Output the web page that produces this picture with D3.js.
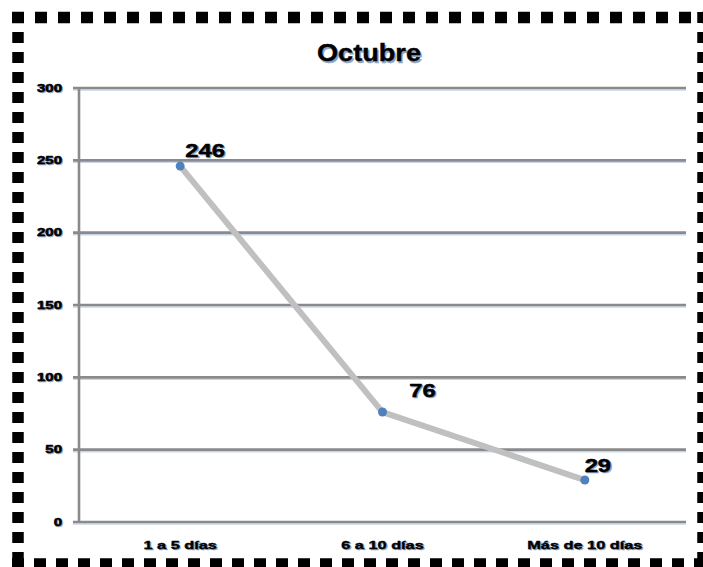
<!DOCTYPE html>
<html><head><meta charset="utf-8">
<script src="https://cdn.jsdelivr.net/npm/d3@7"></script>
<style>body{margin:0;background:#fff}svg{display:block}</style>
</head><body>
<script>
const categories = ["1 a 5 días", "6 a 10 días", "Más de 10 días"];
const values = [246, 76, 29];
const yTicks = [0, 50, 100, 150, 200, 250, 300];
const title = "Octubre";

(function () {
const W = 703, H = 567;
const svg = d3.select("body").append("svg").attr("width", W).attr("height", H);
const font = "'Liberation Sans', Arial, sans-serif";
const shadow = "#8ea4c4";

// dashed border
const bw = 11.5;
const sides = [
  {x1: 12, y1: 17.5, x2: 703, y2: 17.5, d: "12,11"},
  {x1: 18, y1: 12, x2: 18, y2: 567, d: "11,9"},
  {x1: 12, y1: 564, x2: 703, y2: 564, d: "12,10"},
  {x1: 703, y1: 12, x2: 703, y2: 567, d: "11,9"}
];
svg.selectAll("line.border").data(sides).join("line")
  .attr("x1", d => d.x1).attr("y1", d => d.y1).attr("x2", d => d.x2).attr("y2", d => d.y2)
  .attr("stroke", "#000").attr("stroke-width", bw).attr("stroke-dasharray", d => d.d);

const pLeft = 79, pRight = 686, pTop = 88, pBottom = 522;
const x = d3.scaleBand().domain(categories).range([pLeft, pRight]);
const y = d3.scaleLinear().domain([0, 300]).range([pBottom, pTop]);

// gridlines
const grid = svg.append("g");
grid.selectAll("line.gs").data(yTicks).join("line")
  .attr("x1", pLeft - 6).attr("x2", pRight).attr("y1", d => y(d) + 2).attr("y2", d => y(d) + 2)
  .attr("stroke", "#c6d6ea").attr("stroke-width", 1.5);
grid.selectAll("line.g").data(yTicks).join("line")
  .attr("x1", pLeft - 6).attr("x2", pRight).attr("y1", d => y(d)).attr("y2", d => y(d))
  .attr("stroke", "#8a8a8a").attr("stroke-width", 2.6);
svg.append("line").attr("x1", pLeft).attr("x2", pLeft).attr("y1", pTop).attr("y2", pBottom)
  .attr("stroke", "#8a8a8a").attr("stroke-width", 2.6);

// helper: shadowed, horizontally-stretched text
function label(g, data, fx, fy, txt, opts) {
  [[shadow, opts.so], ["#000", 0]].forEach(([c, o]) => {
    g.append("g").selectAll("text").data(data).join("text")
      .attr("transform", (d, i) => `translate(${fx(d, i) + o},${fy(d, i) + o}) scale(${opts.sx},1)`)
      .attr("text-anchor", opts.anchor).attr("font-family", font).attr("font-weight", "bold")
      .attr("font-size", opts.size).attr("fill", c)
      .attr("stroke", c).attr("stroke-width", opts.sw).attr("stroke-linejoin", "round")
      .text(txt);
  });
}

// y tick labels
label(svg.append("g"), yTicks, () => 62, d => y(d) + 3.5, d => d,
  {so: 1, sx: 1.5, anchor: "end", size: 10, sw: 0.5});

// x labels
label(svg.append("g"), categories, d => x(d) + x.bandwidth() / 2, () => 549, d => d,
  {so: 1.2, sx: 1.42, anchor: "middle", size: 11.5, sw: 0.4});

// title
label(svg.append("g"), [title], () => 369, () => 61, d => d,
  {so: 1.5, sx: 1.13, anchor: "middle", size: 24, sw: 0.4});

// line
const pts = categories.map((c, i) => [x(c) + x.bandwidth() / 2, y(values[i])]);
svg.append("path").attr("d", d3.line()(pts)).attr("fill", "none")
  .attr("stroke", "#c0c0c0").attr("stroke-width", 6).attr("stroke-linejoin", "round");
svg.append("g").selectAll("circle").data(pts).join("circle")
  .attr("cx", d => d[0]).attr("cy", d => d[1]).attr("r", 4.5).attr("fill", "#4f81bd");

// data labels (per-label offsets as placed in the original)
const ldx = [25, 40, 13], ldy = [-9, -15, -8];
label(svg.append("g"), pts, (d, i) => d[0] + ldx[i], (d, i) => d[1] + ldy[i], (d, i) => values[i],
  {so: 1.3, sx: 1.25, anchor: "middle", size: 19, sw: 0.5});
})();
</script>
</body></html>
